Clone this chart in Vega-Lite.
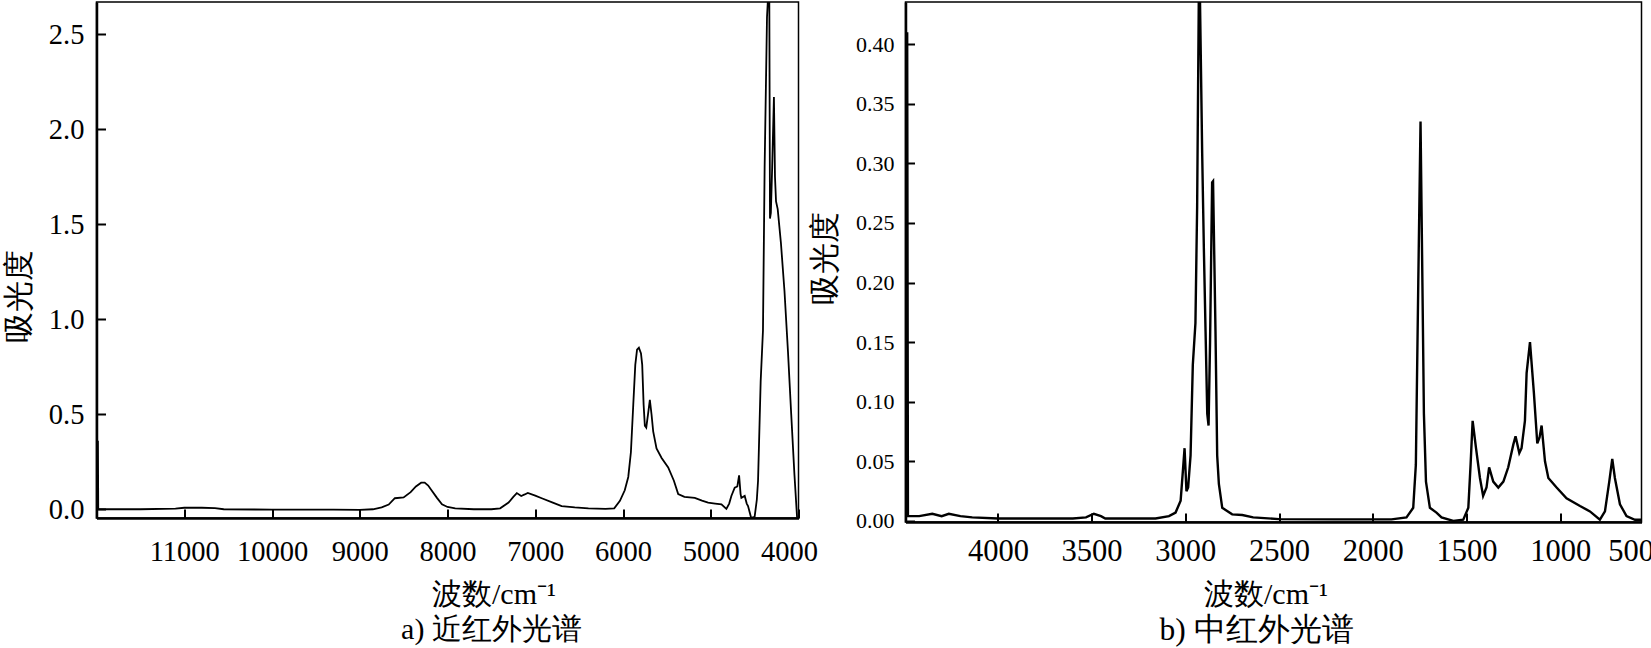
{
  "$schema": "https://vega.github.io/schema/vega-lite/v6.json",
  "padding": {"left": 3.5, "top": 1, "right": 0, "bottom": 0},
  "spacing": 107,
  "bounds": "flush",
  "datasets": {
    "nir": [
      {"wn": 11984, "a": 0.36}, {"wn": 11980, "a": 0.0}, {"wn": 11500, "a": 0.0}, {"wn": 11100, "a": 0.003},
      {"wn": 11000, "a": 0.008}, {"wn": 10800, "a": 0.008}, {"wn": 10650, "a": 0.006}, {"wn": 10550, "a": 0.0},
      {"wn": 10000, "a": -0.002}, {"wn": 9500, "a": -0.002}, {"wn": 9300, "a": -0.002}, {"wn": 9000, "a": -0.003},
      {"wn": 8850, "a": 0.0}, {"wn": 8750, "a": 0.01}, {"wn": 8670, "a": 0.025}, {"wn": 8600, "a": 0.058},
      {"wn": 8500, "a": 0.062}, {"wn": 8420, "a": 0.09}, {"wn": 8360, "a": 0.12}, {"wn": 8300, "a": 0.14},
      {"wn": 8260, "a": 0.14}, {"wn": 8220, "a": 0.125}, {"wn": 8176, "a": 0.096}, {"wn": 8120, "a": 0.06},
      {"wn": 8063, "a": 0.026}, {"wn": 8000, "a": 0.012}, {"wn": 7912, "a": 0.005}, {"wn": 7700, "a": 0.0},
      {"wn": 7500, "a": 0.0}, {"wn": 7400, "a": 0.005}, {"wn": 7304, "a": 0.035}, {"wn": 7250, "a": 0.065},
      {"wn": 7210, "a": 0.085}, {"wn": 7160, "a": 0.07}, {"wn": 7120, "a": 0.078}, {"wn": 7085, "a": 0.086},
      {"wn": 7000, "a": 0.072}, {"wn": 6926, "a": 0.058}, {"wn": 6800, "a": 0.035}, {"wn": 6699, "a": 0.017},
      {"wn": 6550, "a": 0.01}, {"wn": 6394, "a": 0.005}, {"wn": 6200, "a": 0.002}, {"wn": 6100, "a": 0.005},
      {"wn": 6035, "a": 0.044}, {"wn": 5980, "a": 0.1}, {"wn": 5940, "a": 0.17}, {"wn": 5910, "a": 0.3},
      {"wn": 5883, "a": 0.55}, {"wn": 5860, "a": 0.76}, {"wn": 5840, "a": 0.84}, {"wn": 5819, "a": 0.85},
      {"wn": 5795, "a": 0.82}, {"wn": 5781, "a": 0.76}, {"wn": 5765, "a": 0.55}, {"wn": 5751, "a": 0.44},
      {"wn": 5735, "a": 0.43}, {"wn": 5715, "a": 0.5}, {"wn": 5694, "a": 0.576}, {"wn": 5675, "a": 0.5},
      {"wn": 5656, "a": 0.41}, {"wn": 5618, "a": 0.32}, {"wn": 5560, "a": 0.27}, {"wn": 5485, "a": 0.22},
      {"wn": 5420, "a": 0.15}, {"wn": 5371, "a": 0.08}, {"wn": 5300, "a": 0.065}, {"wn": 5182, "a": 0.06},
      {"wn": 5100, "a": 0.045}, {"wn": 5030, "a": 0.035}, {"wn": 4950, "a": 0.03}, {"wn": 4878, "a": 0.026},
      {"wn": 4822, "a": 0.002}, {"wn": 4790, "a": 0.03}, {"wn": 4765, "a": 0.07}, {"wn": 4727, "a": 0.114},
      {"wn": 4697, "a": 0.12}, {"wn": 4677, "a": 0.178}, {"wn": 4660, "a": 0.08}, {"wn": 4651, "a": 0.06},
      {"wn": 4613, "a": 0.07}, {"wn": 4590, "a": 0.03}, {"wn": 4575, "a": 0.017}, {"wn": 4540, "a": -0.045},
      {"wn": 4500, "a": -0.04}, {"wn": 4475, "a": 0.05}, {"wn": 4461, "a": 0.15}, {"wn": 4431, "a": 0.675},
      {"wn": 4405, "a": 0.94}, {"wn": 4386, "a": 1.8}, {"wn": 4359, "a": 2.59}, {"wn": 4341, "a": 2.75},
      {"wn": 4333, "a": 2.75}, {"wn": 4325, "a": 1.53}, {"wn": 4315, "a": 1.56}, {"wn": 4300, "a": 1.8},
      {"wn": 4280, "a": 2.17}, {"wn": 4268, "a": 1.75}, {"wn": 4256, "a": 1.62}, {"wn": 4237, "a": 1.58},
      {"wn": 4200, "a": 1.4}, {"wn": 4160, "a": 1.15}, {"wn": 4120, "a": 0.83}, {"wn": 4083, "a": 0.5},
      {"wn": 4046, "a": 0.18}, {"wn": 4016, "a": -0.045}
    ],
    "mir": [
      {"wn": 4493, "a": 0.003}, {"wn": 4484, "a": 0.41}, {"wn": 4480, "a": 0.004}, {"wn": 4420, "a": 0.004},
      {"wn": 4350, "a": 0.006},
      {"wn": 4300, "a": 0.004}, {"wn": 4262, "a": 0.006}, {"wn": 4200, "a": 0.004}, {"wn": 4137, "a": 0.003},
      {"wn": 4000, "a": 0.002}, {"wn": 3800, "a": 0.002}, {"wn": 3600, "a": 0.002}, {"wn": 3530, "a": 0.003},
      {"wn": 3488, "a": 0.006}, {"wn": 3450, "a": 0.004}, {"wn": 3427, "a": 0.002}, {"wn": 3300, "a": 0.002},
      {"wn": 3159, "a": 0.002}, {"wn": 3087, "a": 0.004}, {"wn": 3052, "a": 0.007}, {"wn": 3025, "a": 0.017},
      {"wn": 3013, "a": 0.042}, {"wn": 3004, "a": 0.061}, {"wn": 2994, "a": 0.025}, {"wn": 2985, "a": 0.028},
      {"wn": 2972, "a": 0.055}, {"wn": 2960, "a": 0.131}, {"wn": 2946, "a": 0.166}, {"wn": 2937, "a": 0.263},
      {"wn": 2928, "a": 0.44}, {"wn": 2922, "a": 0.44}, {"wn": 2910, "a": 0.308}, {"wn": 2901, "a": 0.228},
      {"wn": 2892, "a": 0.159}, {"wn": 2883, "a": 0.09}, {"wn": 2876, "a": 0.08}, {"wn": 2868, "a": 0.15},
      {"wn": 2857, "a": 0.284}, {"wn": 2852, "a": 0.285}, {"wn": 2839, "a": 0.159}, {"wn": 2830, "a": 0.055},
      {"wn": 2821, "a": 0.031}, {"wn": 2803, "a": 0.011}, {"wn": 2750, "a": 0.0055}, {"wn": 2696, "a": 0.005},
      {"wn": 2638, "a": 0.003}, {"wn": 2500, "a": 0.0015}, {"wn": 2200, "a": 0.0013}, {"wn": 1900, "a": 0.0013},
      {"wn": 1820, "a": 0.003}, {"wn": 1784, "a": 0.011}, {"wn": 1770, "a": 0.047}, {"wn": 1757, "a": 0.2},
      {"wn": 1745, "a": 0.335}, {"wn": 1735, "a": 0.2}, {"wn": 1727, "a": 0.09}, {"wn": 1716, "a": 0.033},
      {"wn": 1695, "a": 0.011}, {"wn": 1660, "a": 0.007}, {"wn": 1633, "a": 0.003}, {"wn": 1570, "a": 0.0},
      {"wn": 1517, "a": 0.001}, {"wn": 1490, "a": 0.011}, {"wn": 1478, "a": 0.047}, {"wn": 1467, "a": 0.084},
      {"wn": 1460, "a": 0.075}, {"wn": 1449, "a": 0.061}, {"wn": 1428, "a": 0.036}, {"wn": 1411, "a": 0.021},
      {"wn": 1393, "a": 0.028}, {"wn": 1379, "a": 0.045}, {"wn": 1357, "a": 0.033}, {"wn": 1330, "a": 0.028},
      {"wn": 1303, "a": 0.033}, {"wn": 1277, "a": 0.045}, {"wn": 1250, "a": 0.064}, {"wn": 1238, "a": 0.071},
      {"wn": 1218, "a": 0.057}, {"wn": 1206, "a": 0.061}, {"wn": 1188, "a": 0.084}, {"wn": 1179, "a": 0.124},
      {"wn": 1161, "a": 0.15}, {"wn": 1140, "a": 0.107}, {"wn": 1122, "a": 0.065}, {"wn": 1110, "a": 0.07},
      {"wn": 1099, "a": 0.08}, {"wn": 1081, "a": 0.05}, {"wn": 1063, "a": 0.036}, {"wn": 1019, "a": 0.028},
      {"wn": 966, "a": 0.019}, {"wn": 894, "a": 0.0125}, {"wn": 841, "a": 0.008}, {"wn": 788, "a": 0.001},
      {"wn": 761, "a": 0.008}, {"wn": 738, "a": 0.033}, {"wn": 722, "a": 0.052}, {"wn": 708, "a": 0.036},
      {"wn": 681, "a": 0.014}, {"wn": 646, "a": 0.004}, {"wn": 601, "a": 0.001}, {"wn": 566, "a": 0.001}
    ]
  },
  "hconcat": [
    {
      "width": 702,
      "height": 516,
      "data": {"name": "nir"},
      "title": {"text": "a) 近红外光谱", "orient": "bottom", "anchor": "middle", "dx": 44, "offset": 6, "fontSize": 30, "fontWeight": "normal", "font": "Liberation Serif", "color": "black"},
      "mark": {"type": "line", "color": "black", "strokeWidth": 1.8, "clip": true, "interpolate": "linear"},
      "encoding": {
        "x": {
          "field": "wn", "type": "quantitative", "sort": null,
          "scale": {"domain": [4000, 12000], "reverse": true, "nice": false, "zero": false},
          "axis": {
            "values": [11000, 10000, 9000, 8000, 7000, 6000, 5000, 4000],
            "format": "d", "title": "波数/cm⁻¹",
            "labelFontSize": 28.5, "labelPadding": 28, "labelFlush": true, "labelFlushOffset": 19,
            "titleFontSize": 30,
            "titleX": 397, "titleY": 76, "titleBaseline": "middle", "titleAlign": "center"
          }
        },
        "y": {
          "field": "a", "type": "quantitative",
          "scale": {"domain": [-0.046, 2.67], "nice": false, "zero": false},
          "axis": {
            "values": [0, 0.5, 1, 1.5, 2, 2.5], "format": ".1f", "title": "吸光度",
            "labelFontSize": 28.5, "labelPadding": 21.6,
            "titleFontSize": 30.5,
            "titleX": -77, "titleY": 294, "titleBaseline": "middle", "titleAlign": "center"
          }
        }
      }
    },
    {
      "width": 736,
      "height": 520,
      "data": {"name": "mir"},
      "title": {"text": "b) 中红外光谱", "orient": "bottom", "anchor": "middle", "dx": -17, "offset": 6, "fontSize": 31.5, "fontWeight": "normal", "font": "Liberation Serif", "color": "black"},
      "mark": {"type": "line", "color": "black", "strokeWidth": 2.4, "clip": true, "interpolate": "linear"},
      "encoding": {
        "x": {
          "field": "wn", "type": "quantitative", "sort": null,
          "scale": {"domain": [566, 4493], "reverse": true, "nice": false, "zero": false},
          "axis": {
            "values": [4000, 3500, 3000, 2500, 2000, 1500, 1000, 566],
            "labelExpr": "datum.value < 600 ? '500' : format(datum.value, 'd')",
            "title": "波数/cm⁻¹",
            "labelFontSize": 30.5, "labelPadding": 23, "labelFlush": true, "labelFlushOffset": 12,
            "tickColor": {"condition": {"test": "datum.value < 600", "value": "transparent"}, "value": "black"},
            "titleFontSize": 30,
            "titleX": 360, "titleY": 72, "titleBaseline": "middle", "titleAlign": "center"
          }
        },
        "y": {
          "field": "a", "type": "quantitative",
          "scale": {"domain": [-0.0009, 0.4353], "nice": false, "zero": false},
          "axis": {
            "values": [0, 0.05, 0.1, 0.15, 0.2, 0.25, 0.3, 0.35, 0.4], "format": ".2f", "title": "吸光度",
            "labelFontSize": 22, "labelPadding": 20.6,
            "titleFontSize": 31,
            "titleX": -80, "titleY": 256, "titleBaseline": "middle", "titleAlign": "center"
          }
        }
      }
    }
  ],
  "config": {
    "font": "Liberation Serif",
    "background": "white",
    "view": {"stroke": "black", "strokeWidth": 1.5},
    "axis": {
      "grid": false,
      "zindex": 1,
      "domainColor": "black", "domainWidth": 2.5,
      "tickColor": "black", "tickWidth": 2, "tickSize": -9,
      "labelColor": "black", "labelFont": "Liberation Serif",
      "labelOverlap": false,
      "titleColor": "black", "titleFont": "Liberation Serif",
      "titleFontSize": 28, "titleFontWeight": "normal"
    }
  }
}
